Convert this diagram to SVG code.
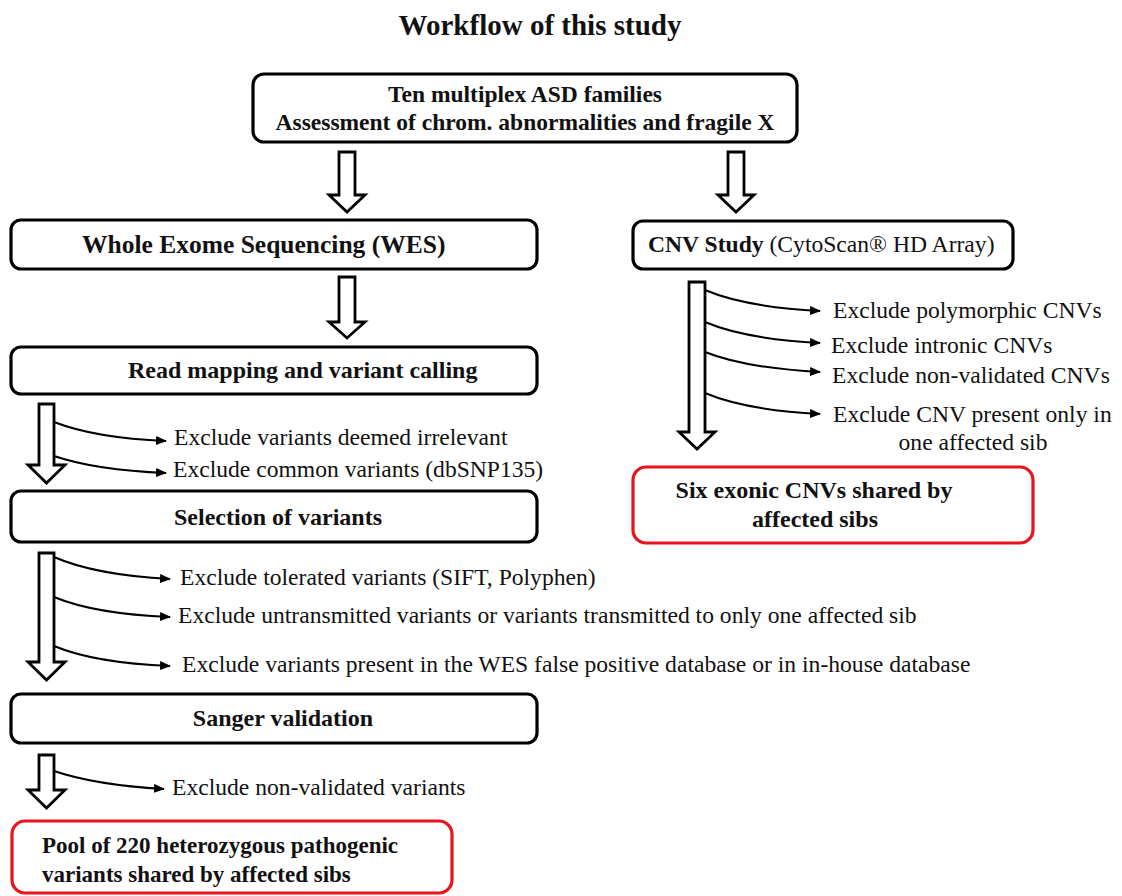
<svg xmlns="http://www.w3.org/2000/svg" width="1122" height="896" viewBox="0 0 1122 896">
<style>
.box{fill:#fff;stroke:#000;stroke-width:3.2}
.rbox{fill:#fff;stroke:#e8131b;stroke-width:3.2}
.big{fill:#fff;stroke:#000;stroke-width:2.8;stroke-linejoin:miter}
.cur{fill:none;stroke:#000;stroke-width:2}
text{font-family:"Liberation Serif","Times New Roman",serif;fill:#111}
.b{font-weight:bold;font-size:24px}
.r{font-size:23.6px}
</style>
<defs>
<marker id="ah" markerWidth="11" markerHeight="9" refX="10" refY="4.5" orient="auto" markerUnits="userSpaceOnUse">
<path d="M0,0 L11,4.5 L0,9 Z" fill="#000"/>
</marker>
</defs>
<text x="540" y="35" text-anchor="middle" style="font-weight:bold;font-size:29px">Workflow of this study</text>

<g id="n_top">
<rect class="box" x="253" y="74" width="544" height="68" rx="11"/>
<text class="b" x="525" y="102" text-anchor="middle" style="font-size:23.5px">Ten multiplex ASD families</text>
<text class="b" x="525" y="130" text-anchor="middle" style="font-size:23.5px">Assessment of chrom. abnormalities and fragile X</text>
</g>
<g id="n_wes">
<rect class="box" x="11" y="220" width="526" height="49" rx="10"/>
<text class="b" x="82" y="253" style="font-size:25.5px">Whole Exome Sequencing (WES)</text>
</g>
<g id="n_cnv">
<rect class="box" x="633" y="221" width="380" height="48" rx="10"/>
<text class="r" x="648" y="252"><tspan font-weight="bold">CNV Study</tspan> (CytoScan® HD Array)</text>
</g>
<g id="n_read">
<rect class="box" x="11" y="347" width="526" height="47" rx="10"/>
<text class="b" x="128" y="378">Read mapping and variant calling</text>
</g>
<g id="n_sel">
<rect class="box" x="11" y="491" width="526" height="51" rx="10"/>
<text class="b" x="278" y="525" text-anchor="middle">Selection of variants</text>
</g>
<g id="n_six">
<rect class="rbox" x="633" y="467" width="400" height="76" rx="13"/>
<text class="b" x="814" y="498" text-anchor="middle">Six exonic CNVs shared by</text>
<text class="b" x="815" y="527" text-anchor="middle">affected sibs</text>
</g>
<g id="n_sanger">
<rect class="box" x="11" y="694" width="526" height="49" rx="10"/>
<text class="b" x="283" y="726" text-anchor="middle">Sanger validation</text>
</g>
<g id="n_pool">
<rect class="rbox" x="12" y="821" width="440" height="72" rx="13"/>
<text class="b" x="42" y="853" style="font-size:23px">Pool of 220 heterozygous pathogenic</text>
<text class="b" x="42" y="882" style="font-size:23px">variants shared by affected sibs</text>
</g>

<g id="labels">
<text class="r" x="833" y="318">Exclude polymorphic CNVs</text>
<text class="r" x="831" y="353">Exclude intronic CNVs</text>
<text class="r" x="832" y="383">Exclude non-validated CNVs</text>
<text class="r" x="833" y="422">Exclude CNV present only in</text>
<text class="r" x="973" y="450" text-anchor="middle">one affected sib</text>
<text class="r" x="174" y="445">Exclude variants deemed irrelevant</text>
<text class="r" x="173" y="477">Exclude common variants (dbSNP135)</text>
<text class="r" x="180" y="585">Exclude tolerated variants (SIFT, Polyphen)</text>
<text class="r" x="178" y="623">Exclude untransmitted variants or variants transmitted to only one affected sib</text>
<text class="r" x="182" y="672">Exclude variants present in the WES false positive database or in in-house database</text>
<text class="r" x="172" y="795">Exclude non-validated variants</text>
</g>

<g id="connectors">
<path class="big" d="M339,152 H355 V195 H365 L347,212 L329,195 H339 Z"/>
<path class="big" d="M728,152 H744 V195 H754 L736,212 L718,195 H728 Z"/>
<path class="big" d="M339,277 H355 V322 H365 L347,338 L329,322 H339 Z"/>
<path class="big" d="M689,282 H705 V432 H715 L697,449 L679,432 H689 Z"/>
<path class="big" d="M39,404 H54 V465 H65 L46.5,483 L28,465 H39 Z"/>
<path class="big" d="M39,553 H54 V662 H65 L46.5,680 L28,662 H39 Z"/>
<path class="big" d="M39,755 H54 V790 H65 L46.5,808 L28,790 H39 Z"/>

<path class="cur" marker-end="url(#ah)" d="M705,290 Q745,307 820,311"/>
<path class="cur" marker-end="url(#ah)" d="M705,322 Q745,339 820,343"/>
<path class="cur" marker-end="url(#ah)" d="M705,352 Q745,368 820,372"/>
<path class="cur" marker-end="url(#ah)" d="M705,393 Q745,410 820,414"/>

<path class="cur" marker-end="url(#ah)" d="M54,422 Q95,438 166,441"/>
<path class="cur" marker-end="url(#ah)" d="M54,456 Q95,470 166,473"/>

<path class="cur" marker-end="url(#ah)" d="M54,557 Q95,575 170,579"/>
<path class="cur" marker-end="url(#ah)" d="M54,597 Q95,614 170,617"/>
<path class="cur" marker-end="url(#ah)" d="M54,646 Q95,663 170,666"/>
<path class="cur" marker-end="url(#ah)" d="M54,771 Q95,785 164,789"/>
</g>
</svg>
